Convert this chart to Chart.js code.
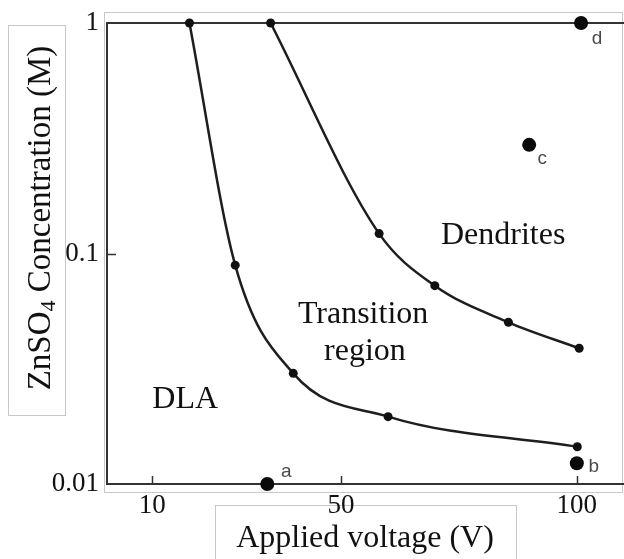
<!DOCTYPE html>
<html>
<head>
<meta charset="utf-8">
<script src="https://cdn.jsdelivr.net/npm/chart.js@4.4.1/dist/chart.umd.min.js"></script>
<style>
  html, body { margin: 0; padding: 0; background: #fff; }
  #wrap { width: 624px; height: 559px; }
</style>
</head>
<body>
<div id="wrap"><canvas id="morph" width="624" height="559"></canvas></div>
<script>
// DLA / transition boundary
const lowerVoltage = [17.9, 27.6, 39.9, 60.0, 100.1];
const lowerConc = [1.0, 0.089, 0.0302, 0.0196, 0.0145];

// transition / dendrites boundary
const upperVoltage = [35.1, 58.1, 69.9, 85.5, 100.5];
const upperConc = [1.0, 0.122, 0.0725, 0.0503, 0.0388];

// sampled deposits
const sampleNames = ['a', 'b', 'c', 'd'];
const sampleVoltage = [34.4, 100.0, 89.9, 100.9];
const sampleConc = [0.01, 0.0123, 0.296, 1.0];

const xTicks = [10, 50, 100];
const yTicks = [0.01, 0.1, 1];

const serif = "'Liberation Serif', 'Times New Roman', serif";
const sans = "'Liberation Sans', Arial, sans-serif";

// region names, anchored in data units (centre of the baseline)
const regionLabels = [
  { text: 'Dendrites', x: 84.4, y: 0.110 },
  { text: 'Transition', x: 54.7, y: 0.0499 },
  { text: 'region', x: 55.1, y: 0.0345 },
  { text: 'DLA', x: 17.0, y: 0.0214 }
];
// pixel offset of each sample letter from its dot
const letterOffset = { a: [19, -7], b: [17, 9], c: [13, 19], d: [16, 21] };

const pts = (xs, ys) => xs.map((v, i) => ({ x: v, y: ys[i] }));

const decor = {
  id: 'decor',
  beforeDraw(chart) {
    const ctx = chart.ctx;
    ctx.save();
    ctx.fillStyle = '#fff';
    ctx.fillRect(0, 0, chart.width, chart.height);
    ctx.strokeStyle = '#c8c8c8';
    ctx.lineWidth = 1;
    ctx.strokeRect(104.5, 12.5, 518, 480);
    ctx.strokeRect(8.5, 25.5, 57, 390);
    ctx.strokeRect(215.5, 505.5, 301, 60);
    ctx.restore();
  },
  beforeDatasetsDraw(chart) {
    const { ctx, chartArea: a, scales: { x, y } } = chart;
    ctx.save();
    ctx.strokeStyle = '#333';
    ctx.lineWidth = 2;
    ctx.beginPath();
    ctx.moveTo(chart.width, a.top);
    ctx.lineTo(a.left + 2, a.top);
    ctx.lineTo(a.left + 2, a.bottom);
    ctx.lineTo(chart.width, a.bottom);
    ctx.stroke();
    // short ticks pointing into the plot
    ctx.lineWidth = 1.5;
    ctx.beginPath();
    xTicks.forEach(v => {
      const px = Math.round(x.getPixelForValue(v)) + 0.5;
      ctx.moveTo(px, a.bottom);
      ctx.lineTo(px, a.bottom - 8);
    });
    const py = Math.round(y.getPixelForValue(0.1)) + 0.5;
    ctx.moveTo(a.left + 2, py);
    ctx.lineTo(a.left + 11, py);
    ctx.stroke();
    ctx.restore();
  },
  afterDatasetsDraw(chart) {
    const { ctx, scales: { x, y } } = chart;
    ctx.save();
    ctx.fillStyle = '#111';
    ctx.textAlign = 'center';
    ctx.textBaseline = 'alphabetic';
    ctx.font = '32px ' + serif;
    regionLabels.forEach(l => {
      ctx.fillText(l.text, x.getPixelForValue(l.x), y.getPixelForValue(l.y));
    });

    // sample letters
    ctx.fillStyle = '#4a4a4a';
    ctx.font = '19px ' + sans;
    sampleNames.forEach((n, i) => {
      const o = letterOffset[n];
      ctx.fillText(n, x.getPixelForValue(sampleVoltage[i]) + o[0], y.getPixelForValue(sampleConc[i]) + o[1]);
    });

    // axis titles
    ctx.fillStyle = '#111';
    ctx.font = '32px ' + serif;
    ctx.fillText('Applied voltage (V)', 365, 547);

    ctx.translate(50, 218);
    ctx.rotate(-Math.PI / 2);
    ctx.textAlign = 'left';
    const big = '33px ' + serif, small = '22px ' + serif;
    const parts = [['ZnSO', big, 0], ['4', small, 5], [' Concentration (M)', big, 0]];
    let total = 0;
    parts.forEach(p => { ctx.font = p[1]; total += ctx.measureText(p[0]).width; });
    let cx = -total / 2;
    parts.forEach(p => {
      ctx.font = p[1];
      ctx.fillText(p[0], cx, p[2]);
      cx += ctx.measureText(p[0]).width;
    });
    ctx.restore();
  }
};

new Chart(document.getElementById('morph'), {
  type: 'line',
  data: {
    datasets: [
      {
        label: 'DLA boundary',
        data: pts(lowerVoltage, lowerConc),
        borderColor: '#1e1e1e',
        borderWidth: 2.5,
        pointRadius: 4.5,
        pointBackgroundColor: '#111',
        pointBorderWidth: 0,
        cubicInterpolationMode: 'monotone',
        clip: false
      },
      {
        label: 'Dendrite boundary',
        data: pts(upperVoltage, upperConc),
        borderColor: '#1e1e1e',
        borderWidth: 2.5,
        pointRadius: 4.5,
        pointBackgroundColor: '#111',
        pointBorderWidth: 0,
        cubicInterpolationMode: 'monotone',
        clip: false
      },
      {
        label: 'Samples',
        data: pts(sampleVoltage, sampleConc),
        showLine: false,
        pointRadius: 7,
        pointBackgroundColor: '#0a0a0a',
        pointBorderWidth: 0,
        clip: false
      }
    ]
  },
  options: {
    responsive: false,
    animation: false,
    layout: { autoPadding: false, padding: { top: 23, left: 0, right: 0, bottom: 0 } },
    plugins: { legend: { display: false }, tooltip: { enabled: false } },
    scales: {
      x: {
        type: 'linear',
        min: 0,
        max: 110,
        afterBuildTicks: s => { s.ticks = xTicks.map(v => ({ value: v })); },
        afterFit: s => { s.height = 75; s.paddingLeft = 0; s.paddingRight = 0; },
        grid: { display: false, drawTicks: false },
        border: { display: false },
        ticks: { padding: 6, maxRotation: 0, color: '#111', font: { family: serif, size: 27 } }
      },
      y: {
        type: 'logarithmic',
        min: 0.01,
        max: 1,
        afterBuildTicks: s => { s.ticks = yTicks.map(v => ({ value: v })); },
        afterFit: s => { s.width = 105; s.paddingTop = 0; s.paddingBottom = 0; },
        grid: { display: false, drawTicks: false },
        border: { display: false },
        ticks: { padding: 6, color: '#111', font: { family: serif, size: 27 }, callback: v => String(v) }
      }
    }
  },
  plugins: [decor]
});
</script>
</body>
</html>
